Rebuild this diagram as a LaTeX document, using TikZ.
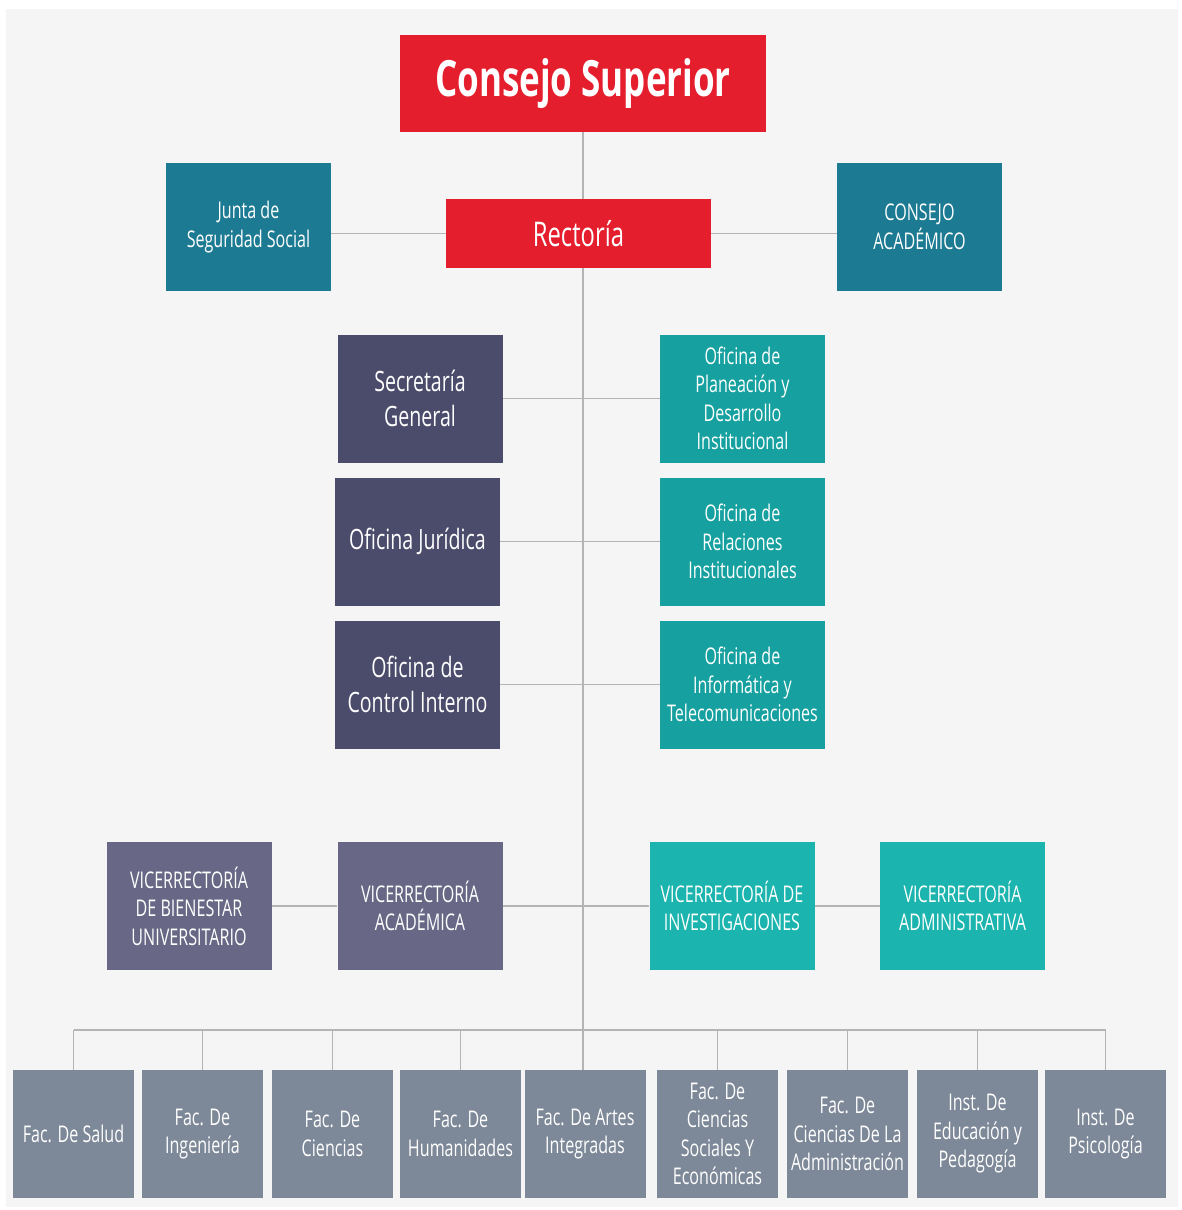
\documentclass[tikz,border=0pt]{standalone}
\usepackage{fontspec}
\setmainfont{Open Sans}[FakeStretch=0.7]
\usetikzlibrary{backgrounds}

\definecolor{supred}{HTML}{E41E2D}
\definecolor{juntablue}{HTML}{1C7A93}
\definecolor{oficgray}{HTML}{4B4B6B}
\definecolor{oficteal}{HTML}{16A0A0}
\definecolor{vicegray}{HTML}{686886}
\definecolor{viceteal}{HTML}{1BB4AE}
\definecolor{facgray}{HTML}{7D8898}
\definecolor{linegray}{HTML}{B4B4B4}
\definecolor{bggray}{HTML}{F5F5F5}

\tikzset{
  unit/.style={inner sep=0pt, align=center, text=white,
    minimum width=165pt, minimum height=128pt,
    font=\fontsize{23}{28.5}\selectfont},
  redbox/.style={unit, fill=supred},
  juntabox/.style={unit, fill=juntablue},
  oficbox/.style={unit, fill=oficgray},
  tealbox/.style={unit, fill=oficteal},
  vicebox/.style={unit, fill=vicegray},
  vtealbox/.style={unit, fill=viceteal},
  facbox/.style={unit, fill=facgray, minimum width=121pt},
  link/.style={draw=linegray, line width=1.4pt}
}

\begin{document}
\begin{tikzpicture}[x=1pt,y=-1pt]

\node[redbox, minimum width=366pt, minimum height=97pt,
  font=\fontsize{50}{52}\bfseries] (sup) at (583,83.5) {Consejo Superior};
\node[redbox, minimum width=265pt, minimum height=69pt,
  font=\fontsize{34}{36}\selectfont] (rect) at (578.5,233.5) {Rectoría};
\node[juntabox] (junta) at (248.5,227) {Junta de\\Seguridad Social};
\node[juntabox] (cacad) at (919.5,227) {CONSEJO\\ACADÉMICO};

\node[oficbox, font=\fontsize{28}{35}\selectfont] (secgen) at (420,398.5) {Secretaría\\General};
\node[oficbox, font=\fontsize{28}{35}\selectfont] (jurid) at (417.5,541.5) {Oficina Jurídica};
\node[oficbox, font=\fontsize{28}{35}\selectfont] (control) at (417.5,684.5) {Oficina de\\Control Interno};

\node[tealbox] (planea) at (742.5,398.5) {Oficina de\\Planeación y\\Desarrollo\\Institucional};
\node[tealbox] (relac) at (742.5,541.5) {Oficina de\\Relaciones\\Institucionales};
\node[tealbox] (inform) at (742.5,684.5) {Oficina de\\Informática y\\Telecomunicaciones};

\node[vicebox] (bien) at (189,906) {VICERRECTORÍA\\DE BIENESTAR\\UNIVERSITARIO};
\node[vicebox] (acad) at (420,906) {VICERRECTORÍA\\ACADÉMICA};
\node[vtealbox] (invest) at (732,906) {VICERRECTORÍA DE\\INVESTIGACIONES};
\node[vtealbox] (admin) at (962.5,906) {VICERRECTORÍA\\ADMINISTRATIVA};

\node[facbox] (salud) at (73.5,1134) {Fac. De Salud};
\node[facbox] (ingen) at (202.5,1134) {Fac. De\\Ingeniería};
\node[facbox] (cienc) at (332.5,1134) {Fac. De\\Ciencias};
\node[facbox] (human) at (460.5,1134) {Fac. De\\Humanidades};
\node[facbox] (artes) at (585,1134) {Fac. De Artes\\Integradas};
\node[facbox] (socia) at (717.5,1134) {Fac. De\\Ciencias\\Sociales Y\\Económicas};
\node[facbox] (admon) at (847.5,1134) {Fac. De\\Ciencias De La\\Administración};
\node[facbox] (educa) at (977.5,1134) {Inst. De\\Educación y\\Pedagogía};
\node[facbox] (psico) at (1105.5,1134) {Inst. De\\Psicología};

\coordinate (bus) at (583,1030);

\begin{scope}[on background layer]
\fill[white] (0,0) rectangle (1181,1210);
\fill[bggray] (6,9) rectangle (1178,1207);

\draw[link] (sup.south) -- (sup.south |- artes.north);
\draw[link] (rect.west) -- (rect.west -| junta.east);
\draw[link] (rect.east) -- (rect.east -| cacad.west);
\draw[link] (secgen) -- (planea);
\draw[link] (jurid) -- (relac);
\draw[link] (control) -- (inform);
\draw[link] (bien) -- (acad) -- (invest) -- (admin);
\draw[link] (salud.north |- bus) -- (psico.north |- bus);
\foreach \f in {salud,ingen,cienc,human,socia,admon,educa,psico}
  \draw[link] (\f.north) -- (\f.north |- bus);
\end{scope}

\end{tikzpicture}
\end{document}
